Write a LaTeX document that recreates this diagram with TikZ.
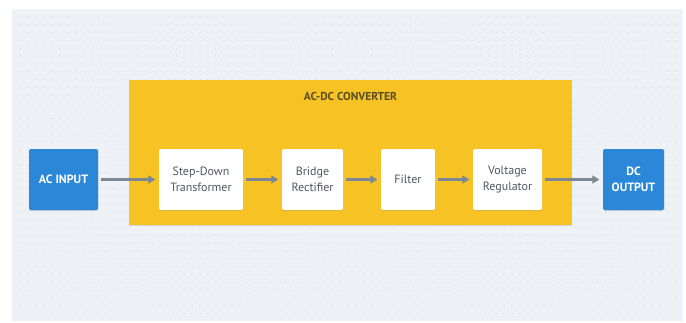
\documentclass[tikz,border=0pt]{standalone}
\usepackage{fontspec}
\setmainfont{PT Sans}
\usetikzlibrary{arrows.meta,shadows}
\definecolor{panelbg}{HTML}{EEF1F5}
\definecolor{dotcol}{HTML}{D0D4DA}
\definecolor{ybox}{HTML}{F6C224}
\definecolor{bbox}{HTML}{2B88D8}
\definecolor{arrowcol}{HTML}{7B8794}
\definecolor{txtgray}{HTML}{4F5660}
\definecolor{titlecol}{HTML}{5A4E22}
\tikzset{
  stage/.style={draw=none, fill=white, rounded corners=1.5pt, inner sep=0pt,
    minimum height=61pt, align=center, text=txtgray,
    font=\fontsize{12}{15.5}\selectfont,
    drop shadow={shadow xshift=0pt, shadow yshift=-0.8pt, opacity=0.12, fill=black}},
  endbox/.style={draw=none, fill=bbox, rounded corners=1.5pt, inner sep=0pt,
    minimum height=61pt, align=center, text=white,
    font=\fontsize{12}{15.5}\selectfont\bfseries,
    drop shadow={shadow xshift=0pt, shadow yshift=-0.8pt, opacity=0.15, fill=black}},
  flow/.style={draw=arrowcol, line width=2.4pt, -{Triangle[length=7pt,width=8pt]},
    shorten <=3pt, shorten >=3.5pt},
}
\begin{document}
\begin{tikzpicture}[x=1pt,y=-1pt]
\useasboundingbox (0,0) rectangle (686,322);
\fill[white] (0,0) rectangle (686,322);
\fill[panelbg] (12,9) rectangle (683,321);
\foreach \i in {0,...,85} {
  \foreach \j in {0,...,39} {
    \pgfmathsetmacro{\xx}{20.5+7.8*\i}
    \pgfmathsetmacro{\yy}{17+7.8*\j}
    \ifdim \xx pt<682pt \ifdim \yy pt<320pt
      \fill[dotcol] (\xx,\yy) circle (0.55);
    \fi\fi
  }
}
\node[fill=ybox, inner sep=0pt, minimum width=443pt, minimum height=145pt,
  drop shadow={shadow xshift=0pt, shadow yshift=-0.8pt, opacity=0.12, fill=black}]
  (conv) at (350.5,152.5) {};
\node[text=titlecol, font=\fontsize{11.5}{12}\selectfont\bfseries] (title) at (350.5,96) {AC-DC CONVERTER};
\node[endbox, minimum width=69pt] (acin) at (63.5,179.5) {AC INPUT};
\node[stage, minimum width=84pt] (sdt) at (201,179.5) {Step-Down\\Transformer};
\node[stage, minimum width=61pt] (br) at (312.5,179.5) {Bridge\\Rectifier};
\node[stage, minimum width=54pt] (fil) at (408,179.5) {Filter};
\node[stage, minimum width=69pt] (vr) at (507.5,179.5) {Voltage\\Regulator};
\node[endbox, minimum width=61pt] (dcout) at (633.5,179.5) {DC\\OUTPUT};
\draw[flow] (acin) -- (sdt);
\draw[flow] (sdt) -- (br);
\draw[flow] (br) -- (fil);
\draw[flow] (fil) -- (vr);
\draw[flow] (vr) -- (dcout);
\end{tikzpicture}
\end{document}
